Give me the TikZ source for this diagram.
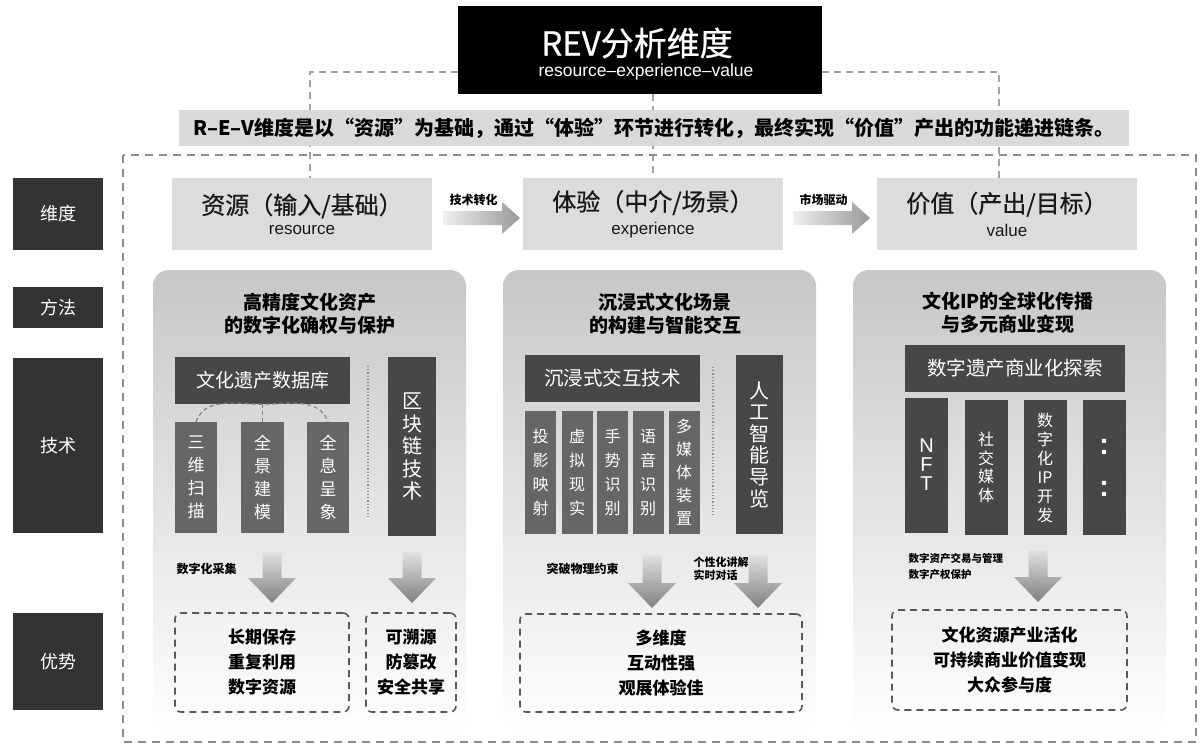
\documentclass[tikz,border=0pt]{standalone}
\usepackage{fontspec}
\setmainfont{Noto Sans CJK SC}
\newfontfamily\medfont{Noto Sans CJK SC}[FakeBold=0.7]
\newfontfamily\latinfont{Liberation Sans}
\usepackage{xcolor}
\usetikzlibrary{arrows.meta,positioning,backgrounds,calc}

\definecolor{labgray}{HTML}{333333}
\definecolor{boxgray}{HTML}{474747}
\definecolor{techgray}{HTML}{666666}
\definecolor{dimgray}{HTML}{DCDCDC}
\definecolor{bargray}{HTML}{D9D9D9}
\definecolor{dashgray}{HTML}{8C8C8C}

\begin{document}
\begin{tikzpicture}[x=1pt,y=-1pt,
  lab/.style={fill=labgray, text=white, minimum width=90,
    font=\fontsize{18}{22}\selectfont},
  dimbox/.style={fill=dimgray, minimum width=260, minimum height=72,
    align=center, text=black!90},
  darkbox/.style={fill=boxgray, text=white, align=center, inner sep=0pt},
  techbox/.style={fill=techgray, text=white, align=center, inner sep=0pt},
  ptitle/.style={align=center, font=\bfseries\fontsize{19}{23}\selectfont},
  cue/.style={align=left, anchor=west, font=\bfseries\fontsize{12}{14}\selectfont},
  advbox/.style={draw=black!65, line width=1.6pt, dash pattern=on 7pt off 5pt,
    rounded corners=6pt, align=center,
    font=\bfseries\fontsize{17}{25}\selectfont},
  link/.style={draw=dashgray!80, line width=1.5pt, dash pattern=on 7pt off 5pt},
  sepdot/.style={draw=black!45, line width=1.2pt, dotted},
  fatdown/.style={top color=black!12, bottom color=black!50},
  fatright/.style={left color=black!6, right color=black!40},
]
  \useasboundingbox (0,0) rectangle (1203,750);

  % Outer dashed frame
  \draw[draw=dashgray, line width=2pt, dash pattern=on 8pt off 6pt]
    (123,155) rectangle (1196,742);

  % Shaded panels, one per dimension
  \foreach \px in {153,503,853}
    \shade[top color=black!22, bottom color=white, rounded corners=16pt]
      (\px,270) rectangle ++(313,465);

  % Title block
  \node[fill=black, minimum width=364, minimum height=88] (title) at (640,49.5) {};
  \node[text=white, font=\medfont\fontsize{33}{33}\selectfont] (titletxt)
    at (637,43) {REV分析维度};
  \node[text=white, font=\latinfont\fontsize{17.5}{18}\selectfont] (titlesub)
    at (646,72) {resource–experience–value};

  % Summary bar
  \node[fill=bargray, minimum width=950, minimum height=36,
    font=\bfseries\fontsize{20}{20}\selectfont] (summary) at (654,128)
    {R–E–V维度是以“资源”为基础，通过“体验”环节进行转化，最终实现“价值”产出的功能递进链条。};

  % Row labels
  \node[lab, minimum height=72] (ldim) at (58,214) {维度};
  \node[lab, minimum height=41] (lmeth) at (58,307.5) {方法};
  \node[lab, minimum height=175] (ltech) at (58,445.5) {技术};
  \node[lab, minimum height=97] (ladv) at (58,661.5) {优势};

  % Dimension boxes
  \node[dimbox] (res) at (302,214)
    {\medfont\fontsize{24}{26}\selectfont 资源（输入/基础）\\[6pt]
     {\latinfont\fontsize{17}{20}\selectfont resource}};
  \node[dimbox] (exp) at (653,214)
    {\medfont\fontsize{24}{26}\selectfont 体验（中介/场景）\\[6pt]
     {\latinfont\fontsize{17}{20}\selectfont experience}};
  \node[dimbox] (val) at (1007,214)
    {\medfont\fontsize{24}{26}\selectfont 价值（产出/目标）\\[6pt]
     {\latinfont\fontsize{17}{20}\selectfont value}};

  % Block arrows between dimensions
  \foreach \ax in {443,793}
    \shade[fatright] (\ax,211) -- (\ax+59,211) -- (\ax+59,202) -- (\ax+77,218)
      -- (\ax+59,234) -- (\ax+59,225) -- (\ax,225) -- cycle;
  \node[cue] (tjt) at (446,200) {技术转化};
  \node[cue] (scq) at (796,200) {市场驱动};

  % Dashed links from the title
  \begin{scope}[on background layer]
    \draw[link] ($(title.west)+(0,22.5)$) -| ([xshift=8pt]res.north);
    \draw[link] (title.south -| exp.north) -- (exp.north);
    \draw[link] ($(title.east)+(0,22.5)$) -| ([xshift=-8pt]val.north);
  \end{scope}

  % ---- Panel 1: resource
  \node[ptitle] (p1) at (310,314) {高精度文化资产\\的数字化确权与保护};
  \node[darkbox, minimum width=175, minimum height=47,
    font=\fontsize{19}{19}\selectfont] (db) at (262.5,380.5) {文化遗产数据库};
  \node[darkbox, minimum width=48, minimum height=179,
    font=\fontsize{20}{22.5}\selectfont] (chain) at (412,446.5) {区\\块\\链\\技\\术};
  \node[techbox, minimum width=42, minimum height=111,
    font=\fontsize{17}{23}\selectfont] (scan) at (196,477.5) {三\\维\\扫\\描};
  \node[techbox, minimum width=43, minimum height=111,
    font=\fontsize{17}{23}\selectfont] (pano) at (262.5,477.5) {全\\景\\建\\模};
  \node[techbox, minimum width=42, minimum height=111,
    font=\fontsize{17}{23}\selectfont] (holo) at (328,477.5) {全\\息\\呈\\象};
  \draw[draw=black!50, line width=1.2pt, dash pattern=on 4pt off 3pt]
    (scan.north) to[out=70,in=180] (db.south) to[out=0,in=110] (holo.north);
  \draw[draw=black!50, line width=1.2pt, dash pattern=on 4pt off 3pt]
    (db.south) -- (pano.north);
  \draw[sepdot] (368,366) -- (368,517);

  \node[cue] (c1) at (173,569) {数字化采集};
  \node[advbox, minimum width=174, minimum height=99] (a1) at (262,662.5)
    {长期保存\\重复利用\\数字资源};
  \node[advbox, minimum width=90, minimum height=99] (a2) at (411,662.5)
    {可溯源\\防篡改\\安全共享};

  % ---- Panel 2: experience
  \node[ptitle] (p2) at (665,314) {沉浸式文化场景\\的构建与智能交互};
  \node[darkbox, minimum width=175, minimum height=47,
    font=\fontsize{19.5}{19.5}\selectfont] (imm) at (612.5,378.5) {沉浸式交互技术};
  \node[darkbox, minimum width=47, minimum height=179,
    font=\fontsize{20}{21.6}\selectfont] (ai) at (759.5,444.5) {人\\工\\智\\能\\导\\览};
  \node[techbox, minimum width=31, minimum height=123,
    font=\fontsize{16}{24}\selectfont] (proj) at (540.5,472.5) {投\\影\\映\\射};
  \node[techbox, minimum width=31, minimum height=123,
    font=\fontsize{16}{24}\selectfont] (vr) at (577,472.5) {虚\\拟\\现\\实};
  \node[techbox, minimum width=31, minimum height=123,
    font=\fontsize{16}{24}\selectfont] (gest) at (612.5,472.5) {手\\势\\识\\别};
  \node[techbox, minimum width=31, minimum height=123,
    font=\fontsize{16}{24}\selectfont] (voice) at (648,472.5) {语\\音\\识\\别};
  \node[techbox, minimum width=31, minimum height=123,
    font=\fontsize{16}{23}\selectfont] (media) at (684,472.5) {多\\媒\\体\\装\\置};
  \draw[sepdot] (713,367) -- (713,517);

  \node[cue] (c2) at (543,569) {突破物理约束};
  \node[cue, font=\bfseries\fontsize{11}{13}\selectfont] (c3) at (690,568.5)
    {个性化讲解\\实时对话};
  \node[advbox, minimum width=282, minimum height=98] (a3) at (661,663)
    {多维度\\互动性强\\观展体验佳};

  % ---- Panel 3: value
  \node[ptitle] (p3) at (1008,313) {文化IP的全球化传播\\与多元商业变现};
  \node[darkbox, minimum width=220, minimum height=47,
    font=\fontsize{19.5}{19.5}\selectfont] (com) at (1015,368.5) {数字遗产商业化探索};
  \node[darkbox, minimum width=43, minimum height=135,
    font=\latinfont\fontsize{20}{19}\selectfont] (nft) at (926.5,465) {N\\F\\T};
  \node[darkbox, minimum width=43, minimum height=135,
    font=\fontsize{16}{18.5}\selectfont] (soc) at (986,467.5) {社\\交\\媒\\体};
  \node[darkbox, minimum width=43, minimum height=135,
    font=\fontsize{16}{19}\selectfont] (dip) at (1045,467.5) {数\\字\\化\\IP\\开\\发};
  \node[darkbox, minimum width=43, minimum height=135,
    font=\latinfont\bfseries\fontsize{30}{42}\selectfont] (more) at (1104,467.5) {:\\:};

  \node[cue, font=\bfseries\fontsize{10.5}{16}\selectfont] (c4) at (905,567)
    {数字资产交易与管理\\数字产权保护};
  \node[advbox, minimum width=235, minimum height=100] (a4) at (1009.5,660)
    {文化资源产业活化\\可持续商业价值变现\\大众参与度};

  % Down arrows into the advantages
  \foreach \ax/\at/\ab in {272/552/603,412/552/603,652/555/608,758/555/608,1038/550/602}
    \shade[fatdown] (\ax-9.5,\at) -- (\ax+9.5,\at) -- (\ax+9.5,\ab-25)
      -- (\ax+24,\ab-25) -- (\ax,\ab) -- (\ax-24,\ab-25) -- (\ax-9.5,\ab-25) -- cycle;
\end{tikzpicture}
\end{document}
